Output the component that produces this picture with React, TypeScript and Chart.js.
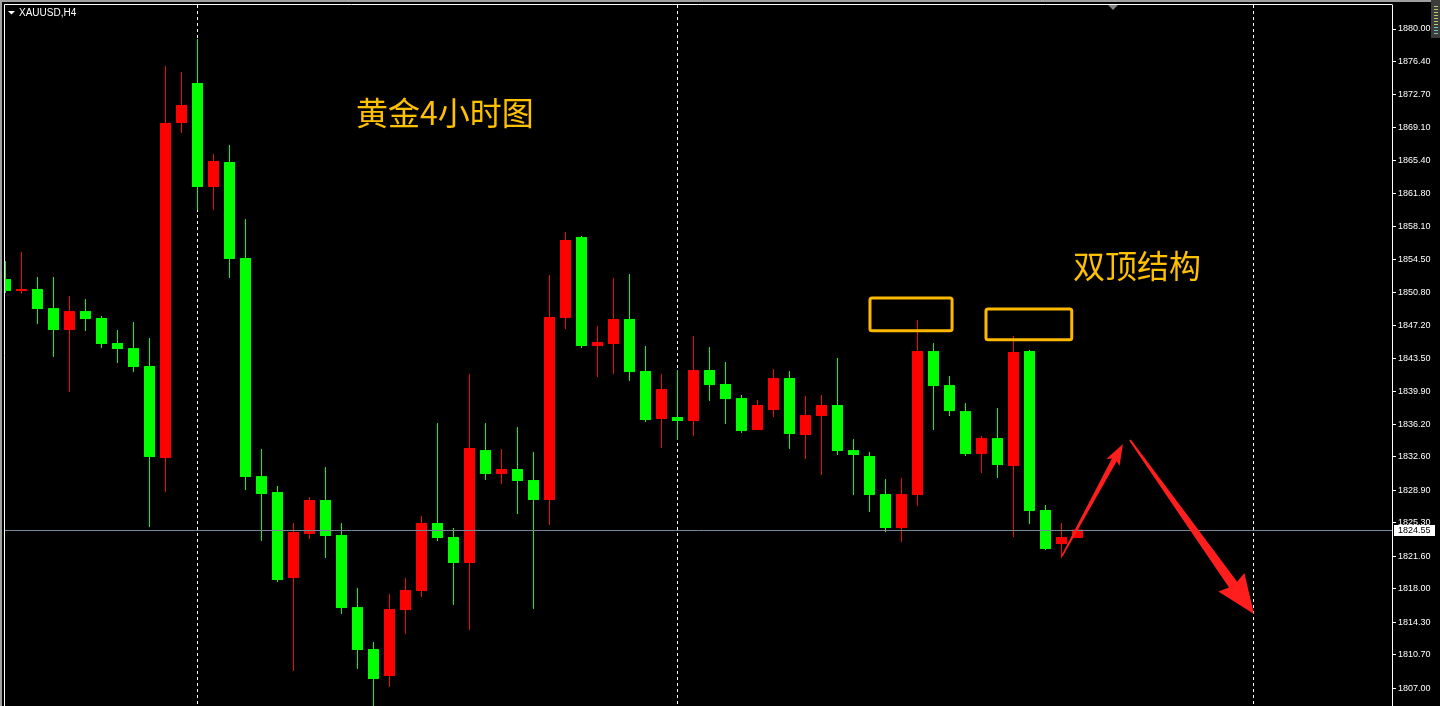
import React, { useEffect, useRef } from 'react';
import { Chart, registerables } from 'chart.js';

Chart.register(...registerables);

// ---------- data ----------
const symbolLabel = 'XAUUSD,H4';
const bars = Array.from({ length: 68 }, (_, i) => i);
const opens = [
  1852.31, 1850.98, 1851.2, 1849.09, 1846.66, 1848.76, 1847.99, 1845.22, 1844.66, 1842.67,
  1832.48, 1869.59, 1874.02, 1862.5, 1865.27, 1854.63, 1830.48, 1828.71, 1819.19, 1824.06,
  1827.83, 1823.95, 1815.97, 1811.32, 1808.33, 1815.64, 1817.75, 1825.28, 1823.73, 1820.85,
  1833.36, 1830.71, 1831.26, 1830.04, 1827.83, 1847.99, 1856.96, 1844.88, 1845.11, 1847.88,
  1842.12, 1836.8, 1837.02, 1836.58, 1842.23, 1840.68, 1839.12, 1835.58, 1837.8, 1841.34,
  1835.03, 1837.13, 1838.35, 1833.36, 1832.7, 1828.49, 1824.72, 1828.38, 1844.33, 1840.56,
  1837.68, 1832.92, 1834.69, 1831.59, 1844.33, 1826.72, 1822.95, 1823.62,
];
const highs = [
  1854.3, 1855.3, 1852.53, 1852.53, 1850.42, 1850.09, 1848.21, 1846.66, 1847.54, 1845.77,
  1875.9, 1875.24, 1878.89, 1866.15, 1867.15, 1858.95, 1833.47, 1829.38, 1825.28, 1828.16,
  1831.48, 1825.28, 1818.08, 1812.1, 1817.41, 1819.19, 1826.05, 1836.36, 1824.72, 1841.78,
  1836.36, 1833.47, 1835.91, 1833.14, 1852.75, 1857.51, 1857.07, 1847.1, 1852.42, 1852.86,
  1844.88, 1841.78, 1842.23, 1845.99, 1844.77, 1843.11, 1839.46, 1838.9, 1842.34, 1842.12,
  1839.35, 1839.46, 1843.56, 1834.58, 1833.14, 1830.15, 1830.26, 1847.76, 1845.22, 1841.56,
  1838.57, 1834.92, 1838.02, 1845.99, 1844.44, 1827.27, 1825.28, 1824.55,
];
const lows = [
  1850.76, 1850.7, 1847.32, 1843.67, 1839.79, 1846.55, 1844.66, 1843.0, 1842.0, 1824.83,
  1828.71, 1868.48, 1859.95, 1859.95, 1852.42, 1828.93, 1823.28, 1818.74, 1808.88, 1823.51,
  1821.4, 1815.2, 1809.1, 1804.9, 1807.11, 1812.98, 1817.08, 1823.28, 1816.19, 1813.42,
  1830.04, 1829.6, 1826.27, 1815.75, 1825.06, 1846.77, 1844.66, 1841.45, 1841.78, 1841.01,
  1836.47, 1833.59, 1834.47, 1834.92, 1838.79, 1836.24, 1835.25, 1835.58, 1837.02, 1833.47,
  1832.37, 1830.59, 1832.81, 1828.38, 1826.5, 1824.28, 1823.17, 1827.16, 1835.58, 1837.13,
  1832.7, 1830.82, 1830.26, 1823.73, 1825.17, 1822.29, 1821.4, 1823.62,
];
const closes = [
  1850.98, 1851.2, 1848.98, 1846.66, 1848.76, 1847.88, 1845.11, 1844.55, 1842.56, 1832.59,
  1869.59, 1871.58, 1862.5, 1865.38, 1854.52, 1830.37, 1828.49, 1818.96, 1824.28, 1827.83,
  1823.84, 1815.86, 1811.21, 1808.0, 1815.75, 1817.86, 1825.28, 1823.62, 1820.85, 1833.59,
  1830.71, 1831.26, 1829.93, 1827.83, 1848.1, 1856.63, 1844.88, 1845.33, 1847.88, 1842.0,
  1836.69, 1840.12, 1836.58, 1842.23, 1840.56, 1839.01, 1835.47, 1838.35, 1841.34, 1835.14,
  1837.24, 1838.35, 1833.25, 1832.81, 1828.38, 1824.72, 1828.49, 1844.33, 1840.45, 1837.68,
  1832.92, 1834.69, 1831.7, 1844.22, 1826.61, 1822.4, 1823.73, 1824.55,
];
const yTickValues = [
  1880.0, 1876.4, 1872.7, 1869.1, 1865.4, 1861.8, 1858.1, 1854.5, 1850.8, 1847.2, 1843.5,
  1839.9, 1836.2, 1832.6, 1828.9, 1825.3, 1821.6, 1818.0, 1814.3, 1810.7, 1807.0,
];
const separatorBars = [12, 42, 78];
const currentPrice = 1824.55;

const titleText = '黄金4小时图';
const patternText = '双顶结构';

// scale window
const xMin = -0.03125;
const xMax = 86.656;
const yMin = 1805.01;
const yMax = 1882.66;

// annotations in data coordinates
const titlePos = { x: 21.9, y: 1870.69 };
const patternPos = { x: 66.72, y: 1853.75 };
const topBoxes = [
  { x0: 54.03, x1: 59.16, y0: 1850.2, y1: 1846.58 },
  { x0: 61.28, x1: 66.64, y0: 1848.98, y1: 1845.58 },
];
const arrows = [
  { tx: 66.03, ty: 1821.62, hx: 69.84, hy: 1834.03, w0: 1.5, w1: 5.5, hl: 18, hw: 7.5 },
  { tx: 70.28, ty: 1834.47, hx: 78.03, hy: 1815.2, w0: 2, w1: 10, hl: 36, hw: 16 },
];

const UP = '#FF0000';
const DOWN = '#00FF00';
const candleColors = bars.map((i) => (closes[i] > opens[i] ? UP : DOWN));

const overlayPlugin = {
  id: 'mt4overlay',
  beforeDraw(chart: any) {
    const ctx = chart.ctx;
    ctx.save();
    ctx.fillStyle = '#000';
    ctx.fillRect(0, 0, chart.width, chart.height);
    ctx.restore();
  },
  beforeDatasetsDraw(chart: any) {
    const { ctx, chartArea: a, scales } = chart;
    const x = scales.x;
    ctx.save();
    ctx.strokeStyle = '#FFFFFF';
    ctx.lineWidth = 1;
    ctx.setLineDash([3, 3]);
    separatorBars.forEach((i) => {
      const px = Math.floor(x.getPixelForValue(i)) + 0.5;
      ctx.beginPath();
      ctx.moveTo(px, a.top);
      ctx.lineTo(px, a.bottom);
      ctx.stroke();
    });
    ctx.restore();
  },
  afterDatasetsDraw(chart: any) {
    const { ctx, chartArea: a, scales } = chart;
    const x = scales.x;
    const y = scales.y;
    ctx.save();
    // bid line
    const py = Math.round(y.getPixelForValue(currentPrice)) + 0.5;
    ctx.strokeStyle = '#778899';
    ctx.lineWidth = 1;
    ctx.beginPath();
    ctx.moveTo(a.left, py);
    ctx.lineTo(a.right, py);
    ctx.stroke();

    // orange boxes
    ctx.strokeStyle = '#FFB800';
    ctx.lineWidth = 3;
    ctx.lineJoin = 'round';
    topBoxes.forEach((b) => {
      const x0 = x.getPixelForValue(b.x0);
      const x1 = x.getPixelForValue(b.x1);
      const y0 = y.getPixelForValue(b.y0);
      const y1 = y.getPixelForValue(b.y1);
      ctx.beginPath();
      if ((ctx as any).roundRect) (ctx as any).roundRect(x0, y0, x1 - x0, y1 - y0, 2);
      else ctx.rect(x0, y0, x1 - x0, y1 - y0);
      ctx.stroke();
    });

    // arrows
    ctx.fillStyle = '#FF1E1E';
    arrows.forEach((ar) => {
      const tx = x.getPixelForValue(ar.tx);
      const ty = y.getPixelForValue(ar.ty);
      const hx = x.getPixelForValue(ar.hx);
      const hy = y.getPixelForValue(ar.hy);
      const dx = hx - tx;
      const dy = hy - ty;
      const len = Math.sqrt(dx * dx + dy * dy);
      const ux = dx / len;
      const uy = dy / len;
      const nx = -uy;
      const ny = ux;
      const bx = hx - ux * ar.hl;
      const by = hy - uy * ar.hl;
      ctx.beginPath();
      ctx.moveTo(tx + (nx * ar.w0) / 2, ty + (ny * ar.w0) / 2);
      ctx.lineTo(bx + (nx * ar.w1) / 2, by + (ny * ar.w1) / 2);
      ctx.lineTo(bx + nx * ar.hw - ux * 3, by + ny * ar.hw - uy * 3);
      ctx.lineTo(hx, hy);
      ctx.lineTo(bx - nx * ar.hw - ux * 3, by - ny * ar.hw - uy * 3);
      ctx.lineTo(bx - (nx * ar.w1) / 2, by - (ny * ar.w1) / 2);
      ctx.lineTo(tx - (nx * ar.w0) / 2, ty - (ny * ar.w0) / 2);
      ctx.closePath();
      ctx.fill();
    });

    // texts
    ctx.fillStyle = '#FFC000';
    ctx.font = '32px "Noto Sans CJK SC"';
    ctx.textBaseline = 'middle';
    ctx.textAlign = 'left';
    ctx.fillText(titleText, x.getPixelForValue(titlePos.x), y.getPixelForValue(titlePos.y));
    ctx.fillText(patternText, x.getPixelForValue(patternPos.x), y.getPixelForValue(patternPos.y));
    ctx.restore();
  },
  afterDraw(chart: any) {
    const { ctx, chartArea: a, scales } = chart;
    const y = scales.y;
    ctx.save();
    // window frame
    ctx.fillStyle = '#A0A0A0';
    ctx.fillRect(0, 0, chart.width, 2);
    ctx.fillRect(0, 0, 2, chart.height);
    ctx.strokeStyle = '#FFFFFF';
    ctx.lineWidth = 1;
    ctx.beginPath();
    ctx.moveTo(4.5, chart.height);
    ctx.lineTo(4.5, 4.5);
    ctx.lineTo(a.right + 0.5, 4.5);
    ctx.stroke();

    // top-right gadget
    ctx.fillStyle = '#3C3C3C';
    ctx.fillRect(1431, 0, 9, 38);
    ctx.fillStyle = '#B8C86A';
    for (let k = 0; k < 7; k++) ctx.fillRect(1434, 6 + k * 3, 4, 1);
    ctx.fillStyle = '#6FC7C0';
    for (let k = 0; k < 3; k++) ctx.fillRect(1434, 27 + k * 3, 4, 1);

    // chart-shift marker
    ctx.fillStyle = '#808080';
    ctx.beginPath();
    ctx.moveTo(1108, 5);
    ctx.lineTo(1118, 5);
    ctx.lineTo(1113, 10);
    ctx.closePath();
    ctx.fill();

    // symbol label
    ctx.fillStyle = '#FFFFFF';
    ctx.beginPath();
    ctx.moveTo(8, 11);
    ctx.lineTo(15, 11);
    ctx.lineTo(11.5, 14.5);
    ctx.closePath();
    ctx.fill();
    ctx.font = '10px "Liberation Sans"';
    ctx.textBaseline = 'middle';
    ctx.textAlign = 'left';
    ctx.fillText(symbolLabel, 19, 13);

    // current price label
    const py = Math.round(y.getPixelForValue(currentPrice));
    ctx.fillStyle = '#FFFFFF';
    ctx.fillRect(1394, py - 5, 41, 11);
    ctx.fillStyle = '#000000';
    ctx.font = '9px "Liberation Sans"';
    ctx.fillText(currentPrice.toFixed(2), 1398, py + 0.5);
    ctx.restore();
  },
};

export default function App() {
  const ref = useRef<HTMLCanvasElement | null>(null);
  useEffect(() => {
    if (!ref.current) return;
    const chart = new Chart(ref.current, {
      type: 'bar',
      data: {
        datasets: [
          {
            label: 'wick',
            data: bars.map((i) => ({ x: i, y: [lows[i], highs[i]] })) as any,
            backgroundColor: candleColors,
            barThickness: 1,
            grouped: false,
            inflateAmount: 0,
            borderWidth: 0,
            order: 2,
          } as any,
          {
            label: 'body',
            data: bars.map((i) => ({ x: i, y: [opens[i], closes[i]] })) as any,
            backgroundColor: candleColors,
            barThickness: 11,
            minBarLength: 1,
            grouped: false,
            inflateAmount: 0,
            borderWidth: 0,
            order: 1,
          } as any,
        ],
      },
      options: {
        responsive: false,
        animation: false,
        devicePixelRatio: 1,
        events: [],
        layout: { padding: { left: 5, top: 5, right: 0, bottom: 0 } },
        plugins: { legend: { display: false }, tooltip: { enabled: false } },
        scales: {
          x: { type: 'linear', display: false, min: xMin, max: xMax, offset: false },
          y: {
            position: 'right',
            min: yMin,
            max: yMax,
            afterFit: (s: any) => {
              s.width = 48;
              s.paddingTop = 0;
              s.paddingBottom = 0;
            },
            afterBuildTicks: (s: any) => {
              s.ticks = yTickValues.map((v) => ({ value: v }));
            },
            ticks: {
              color: '#FFFFFF',
              font: { family: 'Liberation Sans', size: 9 },
              padding: 2,
              autoSkip: false,
              callback: (v: any) => Number(v).toFixed(2),
            },
            grid: { drawOnChartArea: false, drawTicks: true, tickLength: 4, color: '#FFFFFF' },
            border: { display: true, color: '#FFFFFF', width: 1 },
          },
        },
      } as any,
      plugins: [overlayPlugin],
    });
    return () => chart.destroy();
  }, []);
  return (
    <div style={{ position: 'fixed', left: 0, top: 0, width: 1440, height: 706, background: '#000' }}>
      <canvas ref={ref} width={1440} height={706} style={{ display: 'block', width: 1440, height: 706 }} />
    </div>
  );
}
